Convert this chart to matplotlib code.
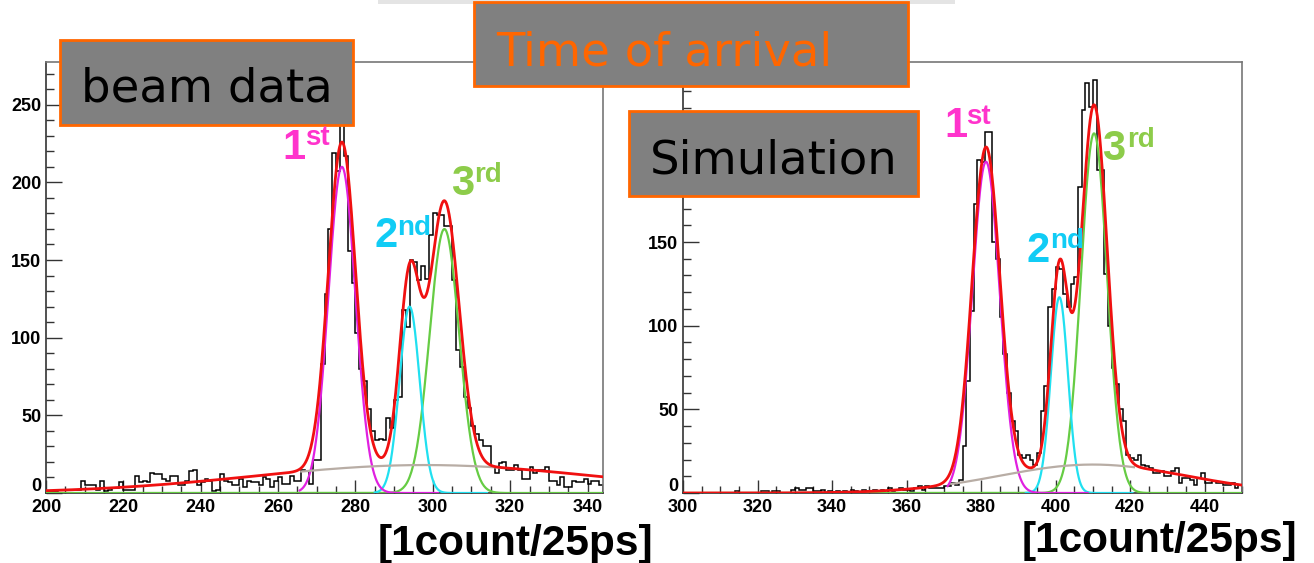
import numpy as np
import matplotlib
matplotlib.use("Agg")
import matplotlib.pyplot as plt
import matplotlib.transforms as mtransforms
from matplotlib.patches import Rectangle
from matplotlib.ticker import MultipleLocator

# ---- data: beam data histogram (1 count bins, 200..343) ----
beam_start = 200
beam_counts = [
    1, 1, 1, 2, 2, 2, 2, 2, 2, 8,
    5, 5, 5, 2, 8, 1, 2, 3, 3, 7,
    2, 2, 2, 11, 7, 8, 7, 13, 12, 12,
    9, 8, 11, 11, 5, 5, 8, 14, 15, 5,
    7, 9, 8, 1, 2, 12, 8, 7, 5, 5,
    9, 4, 8, 7, 7, 5, 10, 9, 4, 8,
    10, 6, 6, 11, 8, 8, 15, 14, 6, 21,
    21, 83, 128, 170, 219, 207, 250, 217, 156, 135,
    103, 80, 72, 54, 40, 34, 35, 34, 48, 42,
    60, 62, 118, 107, 150, 149, 137, 146, 138, 166,
    180, 179, 179, 172, 172, 137, 92, 81, 62, 55,
    43, 38, 34, 30, 30, 17, 13, 19, 20, 15,
    15, 18, 15, 9, 9, 17, 13, 15, 15, 17,
    8, 8, 5, 10, 4, 4, 8, 7, 7, 9,
    6, 8, 8, 5,
]

# ---- data: simulation histogram (1 count bins, 300..449) ----
sim_start = 300
sim_counts = [
    0, 0, 0, 0, 0, 0, 0, 0, 0, 0,
    0, 0, 0, 0, 1, 0, 0, 0, 0, 0,
    0, 1, 1, 0, 1, 1, 0, 0, 0, 2,
    3, 2, 2, 3, 3, 1, 1, 2, 0, 1,
    0, 1, 0, 1, 0, 2, 1, 0, 2, 1,
    1, 2, 1, 2, 0, 3, 1, 2, 3, 2,
    2, 1, 3, 4, 2, 4, 3, 3, 3, 3,
    4, 4, 6, 5, 8, 28, 67, 109, 173, 199,
    198, 216, 216, 150, 140, 105, 83, 60, 43, 37,
    23, 21, 23, 20, 17, 24, 49, 64, 111, 122,
    135, 134, 119, 111, 125, 129, 183, 229, 245, 231,
    247, 193, 193, 131, 100, 75, 65, 50, 43, 23,
    21, 20, 23, 17, 16, 15, 12, 12, 13, 10,
    10, 13, 15, 6, 9, 9, 8, 5, 9, 12,
    6, 6, 7, 6, 6, 5, 5, 6, 3, 5,
]

# y tick labels (the ones covered by the title boxes are left blank)
beam_yticks = [0, 50, 100, 150, 200, 250]
beam_ylabels = ["0", "50", "100", "150", "200", "250"]
sim_yticks = [0, 50, 100, 150, 200, 250]
sim_ylabels = ["0", "50", "100", "150", "", ""]

# ---- fit parameters: (amplitude, mean, sigma) ----
beam_peak1 = (210, 276.5, 3.5)
beam_peak2 = (120, 294.0, 2.6)
beam_peak3 = (170, 303.0, 3.8)
beam_bg = (18, 298.0, 44.0)

sim_peak1 = (198, 381.3, 3.7)
sim_peak2 = (117, 401.0, 2.3)
sim_peak3 = (215, 410.3, 3.5)
sim_bg = (17, 410.0, 25.0)

# drawing ranges of the component curves
beam_ranges = {"p1": (265.6, 301.3), "p2": (285.0, 314.0), "p3": (200.0, 344.0), "bg": (266.0, 318.0)}
sim_ranges = {"p1": (371.0, 408.6), "p2": (392.0, 420.6), "p3": (300.0, 450.0), "bg": (372.0, 421.0)}

RED = "#F01010"
MAGENTA = "#E020E0"
CYAN = "#20E0F0"
GREEN = "#66CC44"
GRAY = "#B8ADA5"


def gauss(x, p):
    a, m, s = p
    return a * np.exp(-0.5 * ((x - m) / s) ** 2)


def draw_panel(fig, ax, start, counts, peaks, bg, ranges, xlim, ylim, yticks, ylabels):
    edges = np.arange(start, start + len(counts) + 1)
    ax.stairs(counts, edges, color="black", lw=1.1, zorder=2)

    def comp(key, p, color, lw):
        lo, hi = ranges[key]
        x = np.linspace(lo, hi, 600)
        ax.plot(x, gauss(x, p), color=color, lw=lw, zorder=3)

    comp("p3", peaks[2], GREEN, 1.6)
    comp("p2", peaks[1], CYAN, 1.6)
    comp("p1", peaks[0], MAGENTA, 1.6)
    comp("bg", bg, GRAY, 1.6)

    x = np.linspace(xlim[0], xlim[1], 1500)
    total = sum(gauss(x, p) for p in peaks) + gauss(x, bg)
    ax.plot(x, total, color=RED, lw=2.0, zorder=4)

    ax.set_xlim(*xlim)
    ax.set_ylim(*ylim)
    ax.xaxis.set_major_locator(MultipleLocator(20))
    ax.xaxis.set_minor_locator(MultipleLocator(5))
    ax.set_yticks(yticks)
    ax.set_yticklabels(ylabels)
    ax.yaxis.set_minor_locator(MultipleLocator(10))
    ax.tick_params(axis="x", which="major", direction="in", length=9.5, width=1.0,
                   color="#333333", pad=4.5)
    ax.tick_params(axis="x", which="minor", direction="in", length=5, width=1.0, color="#333333")
    ax.tick_params(axis="y", which="major", direction="in", length=11.5, width=1.0,
                   color="#333333", pad=3.5)
    ax.tick_params(axis="y", which="minor", direction="in", length=6, width=1.0, color="#333333")
    for lab in ax.get_xticklabels() + ax.get_yticklabels():
        lab.set_fontfamily("Liberation Sans")
        lab.set_fontweight("bold")
        lab.set_fontsize(13)
    # the "0" sits a little higher, just above the first x label
    zero = ax.get_yticklabels()[0]
    zero.set_transform(zero.get_transform() +
                       mtransforms.ScaledTranslation(0, 6 / 72, fig.dpi_scale_trans))
    for side in ("left", "bottom"):
        ax.spines[side].set_color("#333333")
        ax.spines[side].set_linewidth(1.2)
    for side in ("top", "right"):
        ax.spines[side].set_color("#777777")
        ax.spines[side].set_linewidth(1.2)


W, H = 1314, 563
fig = plt.figure(figsize=(W / 100, H / 100), dpi=100)
fig.patch.set_facecolor("white")

ax_l = fig.add_axes([46 / W, 1 - 493 / H, (603 - 46) / W, (493 - 62) / H])
ax_r = fig.add_axes([683 / W, 1 - 493 / H, (1242 - 683) / W, (493 - 62) / H])

draw_panel(fig, ax_l, beam_start, beam_counts, [beam_peak1, beam_peak2, beam_peak3], beam_bg,
           beam_ranges, (200, 344), (0, 277.5), beam_yticks, beam_ylabels)
draw_panel(fig, ax_r, sim_start, sim_counts, [sim_peak1, sim_peak2, sim_peak3], sim_bg,
           sim_ranges, (300, 450), (0, 257.6), sim_yticks, sim_ylabels)

# overlay in pixel coordinates for the slide annotations
ov = fig.add_axes([0, 0, 1, 1], zorder=10)
ov.set_xlim(0, W)
ov.set_ylim(H, 0)
ov.axis("off")
ov.patch.set_alpha(0)

ov.add_patch(Rectangle((378, 0), 577, 4, facecolor="#E4E4E4", edgecolor="none"))

ORANGE = "#FF6600"
boxes = [
    (60, 40, 293, 85, "beam data", 81, 102, "black"),
    (474, 2, 434, 84, "Time of arrival", 496, 66, ORANGE),
    (629, 111, 289, 85, "Simulation", 650, 174, "black"),
]
for x, y, w, h, txt, tx, ty, tc in boxes:
    ov.add_patch(Rectangle((x, y), w, h, facecolor="#808080", edgecolor=ORANGE, lw=2.0))
    ov.text(tx, ty, txt, ha="left", va="baseline", fontsize=33.5, color=tc,
            family="DejaVu Sans")

PINK = "#FF33CC"
SKY = "#11CCF5"
LIME = "#8DCC4A"
ordinals = [
    ("1", "st", 282, 159, 305, 145, PINK),
    ("2", "nd", 375, 247, 397, 235, SKY),
    ("3", "rd", 451, 195, 474, 182, LIME),
    ("1", "st", 944, 137, 966, 124, PINK),
    ("2", "nd", 1027, 262, 1050, 248, SKY),
    ("3", "rd", 1102, 160, 1127, 147, LIME),
]
for d, sup, dx, dy, sx, sy, c in ordinals:
    ov.text(dx, dy, d, ha="left", va="baseline", fontsize=30, color=c,
            family="Liberation Sans", weight="bold")
    ov.text(sx, sy, sup, ha="left", va="baseline", fontsize=20, color=c,
            family="Liberation Sans", weight="bold")

for ux, uy in [(378, 555), (1022, 552)]:
    ov.text(ux, uy, "[1count/25ps]", ha="left", va="baseline", fontsize=30.5,
            color="black", family="Liberation Sans", weight="bold")

fig.savefig("out.png", dpi=100, facecolor="white")
